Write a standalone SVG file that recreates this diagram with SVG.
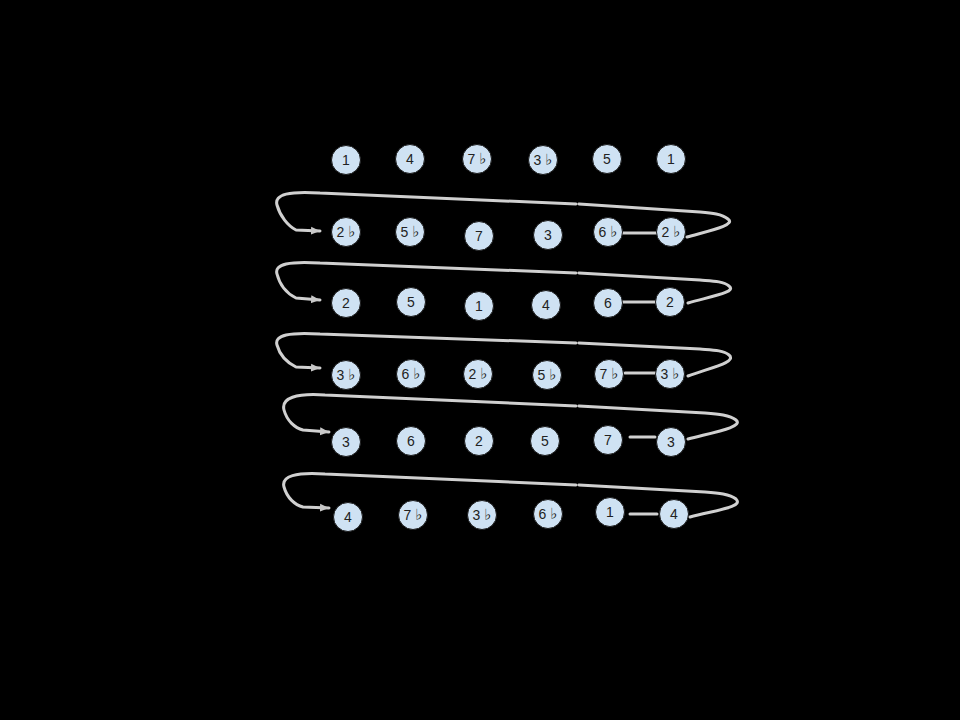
<svg xmlns="http://www.w3.org/2000/svg" width="960" height="720" viewBox="0 0 960 720">
<style>
.n circle{fill:#cfe2f3;stroke:#1a1a1a;stroke-width:1}
.n text{font-family:"Liberation Sans","DejaVu Sans",Arial,sans-serif;font-size:14px;fill:#222;text-anchor:middle;dominant-baseline:central}
.n tspan.f{font-family:"DejaVu Sans",sans-serif;font-size:15px}
.c path{fill:none;stroke:#d0d0d0;stroke-width:3;stroke-linecap:round;stroke-linejoin:round}
</style>
<defs>
<marker id="ah" markerUnits="userSpaceOnUse" markerWidth="12" markerHeight="12" refX="9" refY="5" orient="auto">
<path d="M0,1 L9,5 L0,9 Z" fill="#c8c8c8"/>
</marker>
</defs>
<rect x="0" y="0" width="960" height="720" fill="#000"/>
<g class="c" id="connectors">
<path d="M687 237 C712 230 736 225 728 219 C722 214 712 213 700 212 L579 204 M576 204 L320 193 C290 191 274 194 277 205 C280 216 288 226 296 230 L320 231" marker-end="url(#ah)"/>
<path d="M623 233 L656 233"/>
<path d="M688 303 C713 296 737 292 729 286 C723 281 712 281 700 280 L579 273 M576 273 L320 263 C290 261 274 264 277 274 C280 286 288 294 296 298 L320 300" marker-end="url(#ah)"/>
<path d="M623 302 L655 302"/>
<path d="M688 376 C713 367 737 362 729 355 C723 350 712 350 700 349 L579 343 M576 343 L320 334 C290 332 274 335 277 345 C280 356 288 363 296 367 L320 368" marker-end="url(#ah)"/>
<path d="M625 373 L655 373"/>
<path d="M688 439 C715 432 744 427 736 420 C730 415 718 414 705 413 L579 406 M576 406 L325 395 C296 393 281 398 284 410 C287 421 295 428 303 430 L329 432" marker-end="url(#ah)"/>
<path d="M630 437 L655 437"/>
<path d="M690 517 C717 510 744 507 736 499 C730 494 718 493 705 492 L579 485 M576 485 L325 474 C296 472 281 476 284 487 C287 498 295 505 303 507 L329 508" marker-end="url(#ah)"/>
<path d="M630 514 L657 514"/>
</g>
<g class="n" id="r1c1"><circle cx="346" cy="160" r="14.5"/><text x="346" y="160">1</text></g>
<g class="n" id="r1c2"><circle cx="410" cy="159" r="14.5"/><text x="410" y="159">4</text></g>
<g class="n" id="r1c3"><circle cx="477" cy="159" r="14.5"/><text x="477" y="159">7 <tspan class="f">♭</tspan></text></g>
<g class="n" id="r1c4"><circle cx="543" cy="160" r="14.5"/><text x="543" y="160">3 <tspan class="f">♭</tspan></text></g>
<g class="n" id="r1c5"><circle cx="607" cy="159" r="14.5"/><text x="607" y="159">5</text></g>
<g class="n" id="r1c6"><circle cx="671" cy="159" r="14.5"/><text x="671" y="159">1</text></g>
<g class="n" id="r2c1"><circle cx="346" cy="232" r="14.5"/><text x="346" y="232">2 <tspan class="f">♭</tspan></text></g>
<g class="n" id="r2c2"><circle cx="410" cy="232" r="14.5"/><text x="410" y="232">5 <tspan class="f">♭</tspan></text></g>
<g class="n" id="r2c3"><circle cx="479" cy="236" r="14.5"/><text x="479" y="236">7</text></g>
<g class="n" id="r2c4"><circle cx="548" cy="235" r="14.5"/><text x="548" y="235">3</text></g>
<g class="n" id="r2c5"><circle cx="608" cy="232" r="14.5"/><text x="608" y="232">6 <tspan class="f">♭</tspan></text></g>
<g class="n" id="r2c6"><circle cx="671" cy="232" r="14.5"/><text x="671" y="232">2 <tspan class="f">♭</tspan></text></g>
<g class="n" id="r3c1"><circle cx="346" cy="303" r="14.5"/><text x="346" y="303">2</text></g>
<g class="n" id="r3c2"><circle cx="411" cy="302" r="14.5"/><text x="411" y="302">5</text></g>
<g class="n" id="r3c3"><circle cx="479" cy="306" r="14.5"/><text x="479" y="306">1</text></g>
<g class="n" id="r3c4"><circle cx="546" cy="305" r="14.5"/><text x="546" y="305">4</text></g>
<g class="n" id="r3c5"><circle cx="608" cy="303" r="14.5"/><text x="608" y="303">6</text></g>
<g class="n" id="r3c6"><circle cx="670" cy="302" r="14.5"/><text x="670" y="302">2</text></g>
<g class="n" id="r4c1"><circle cx="346" cy="375" r="14.5"/><text x="346" y="375">3 <tspan class="f">♭</tspan></text></g>
<g class="n" id="r4c2"><circle cx="411" cy="374" r="14.5"/><text x="411" y="374">6 <tspan class="f">♭</tspan></text></g>
<g class="n" id="r4c3"><circle cx="478" cy="374" r="14.5"/><text x="478" y="374">2 <tspan class="f">♭</tspan></text></g>
<g class="n" id="r4c4"><circle cx="547" cy="375" r="14.5"/><text x="547" y="375">5 <tspan class="f">♭</tspan></text></g>
<g class="n" id="r4c5"><circle cx="609" cy="374" r="14.5"/><text x="609" y="374">7 <tspan class="f">♭</tspan></text></g>
<g class="n" id="r4c6"><circle cx="670" cy="374" r="14.5"/><text x="670" y="374">3 <tspan class="f">♭</tspan></text></g>
<g class="n" id="r5c1"><circle cx="346" cy="442" r="14.5"/><text x="346" y="442">3</text></g>
<g class="n" id="r5c2"><circle cx="411" cy="441" r="14.5"/><text x="411" y="441">6</text></g>
<g class="n" id="r5c3"><circle cx="479" cy="441" r="14.5"/><text x="479" y="441">2</text></g>
<g class="n" id="r5c4"><circle cx="545" cy="441" r="14.5"/><text x="545" y="441">5</text></g>
<g class="n" id="r5c5"><circle cx="608" cy="440" r="14.5"/><text x="608" y="440">7</text></g>
<g class="n" id="r5c6"><circle cx="671" cy="442" r="14.5"/><text x="671" y="442">3</text></g>
<g class="n" id="r6c1"><circle cx="348" cy="517" r="14.5"/><text x="348" y="517">4</text></g>
<g class="n" id="r6c2"><circle cx="413" cy="515" r="14.5"/><text x="413" y="515">7 <tspan class="f">♭</tspan></text></g>
<g class="n" id="r6c3"><circle cx="482" cy="515" r="14.5"/><text x="482" y="515">3 <tspan class="f">♭</tspan></text></g>
<g class="n" id="r6c4"><circle cx="548" cy="514" r="14.5"/><text x="548" y="514">6 <tspan class="f">♭</tspan></text></g>
<g class="n" id="r6c5"><circle cx="610" cy="512" r="14.5"/><text x="610" y="512">1</text></g>
<g class="n" id="r6c6"><circle cx="674" cy="514" r="14.5"/><text x="674" y="514">4</text></g>
</svg>
